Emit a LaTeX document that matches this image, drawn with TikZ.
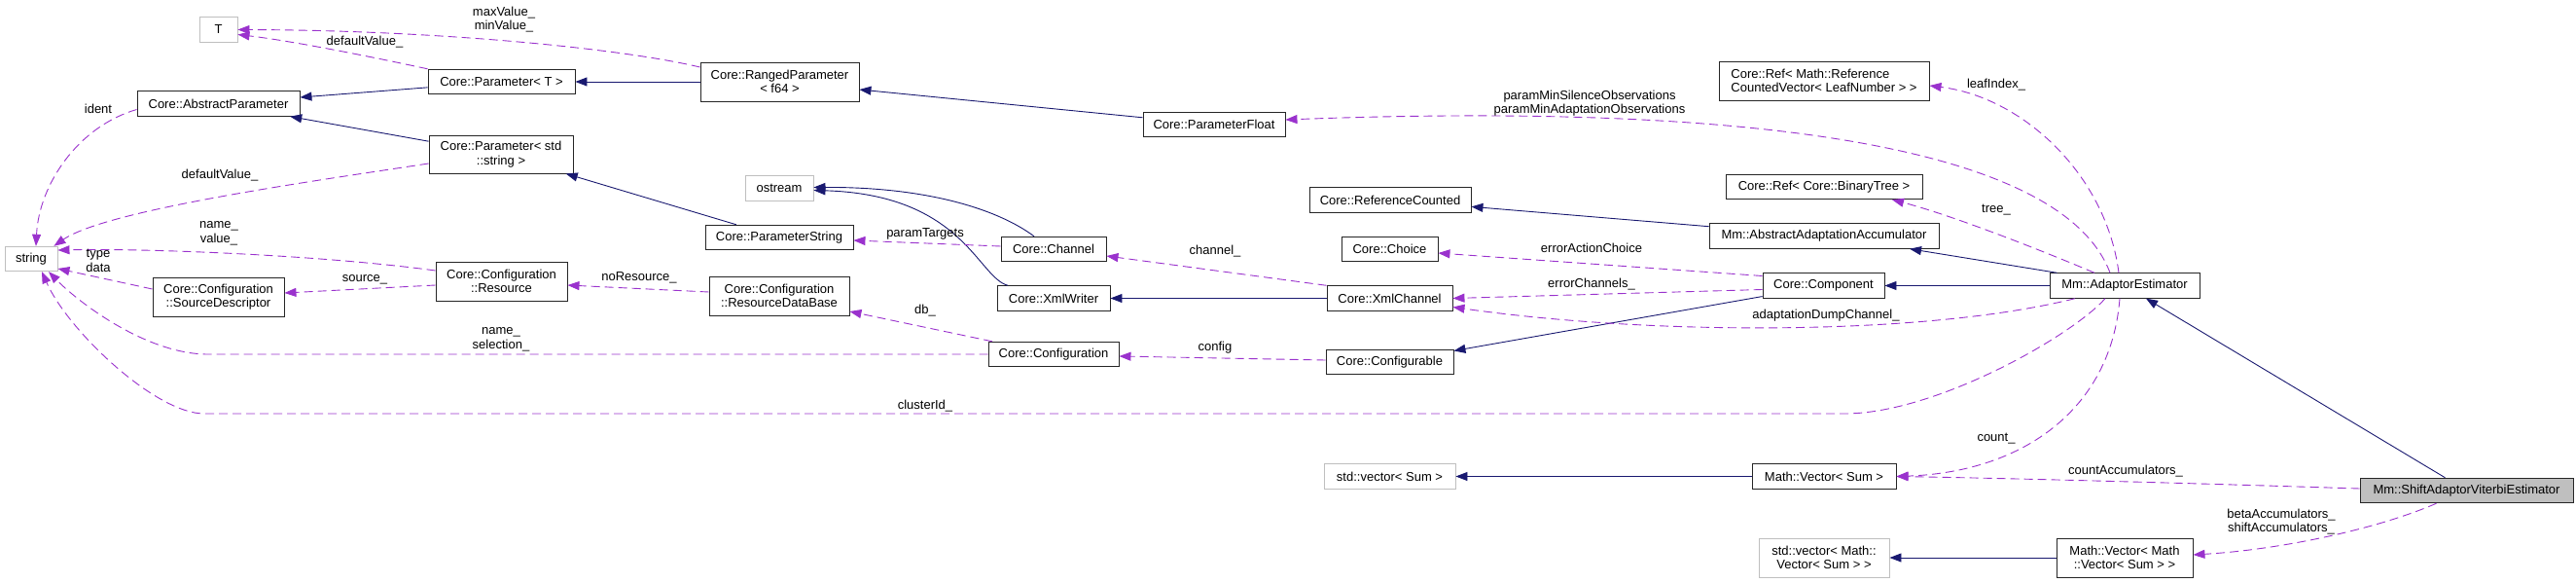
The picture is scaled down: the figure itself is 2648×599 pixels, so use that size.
\documentclass[tikz,border=0pt]{standalone}
\usepackage{fontspec}
\setmainfont{Liberation Sans}
\usetikzlibrary{arrows.meta}
\definecolor{edgeblue}{HTML}{191970}
\definecolor{edgeviolet}{HTML}{9A32CD}
\definecolor{extgray}{HTML}{BFBFBF}
\begin{document}
\begin{tikzpicture}[x=1pt,y=1pt,
  cls/.style={draw=black!85,line width=0.9pt,fill=white,font=\fontsize{13}{14.5}\selectfont,align=center,inner sep=3pt,minimum height=25.5pt},
  ext/.style={cls,draw=extgray},
  inh/.style={draw=edgeblue,line width=0.9pt,-{Triangle[length=12pt,width=9pt]}},
  use/.style={draw=edgeviolet,line width=0.9pt,dash pattern=on 9pt off 5pt,-{Triangle[length=12pt,width=9pt]}},
  lbl/.style={font=\fontsize{13}{14.5}\selectfont,align=center,inner sep=0pt}]
\useasboundingbox (0,0) rectangle (2648,-599);
\node[ext,minimum width=39pt] (tt) at (224.5,-30.5) {T};
\node[cls,minimum width=167pt] (absp) at (224.5,-106.5) {Core::AbstractParameter};
\node[cls,minimum width=151pt] (part) at (515.5,-84) {Core::Parameter< T >};
\node[cls,minimum width=148pt,minimum height=39pt] (pars) at (515,-158.5) {Core::Parameter< std\\::string >};
\node[ext,minimum width=54pt] (str) at (32,-266) {string};
\node[cls,minimum width=135pt,minimum height=40pt] (res) at (515.5,-289) {Core::Configuration\\::Resource};
\node[cls,minimum width=135pt,minimum height=40pt] (srcd) at (224.5,-305) {Core::Configuration\\::SourceDescriptor};
\node[cls,minimum width=163pt,minimum height=40pt] (rng) at (801.5,-84) {Core::RangedParameter\\< f64 >};
\node[cls,minimum width=146pt] (pfl) at (1248,-128) {Core::ParameterFloat};
\node[ext,minimum width=70pt] (ost) at (801,-193.5) {ostream};
\node[cls,minimum width=152pt] (pstr) at (801,-244) {Core::ParameterString};
\node[cls,minimum width=108pt] (chan) at (1083,-256) {Core::Channel};
\node[cls,minimum width=116pt] (xmlw) at (1083,-306.5) {Core::XmlWriter};
\node[cls,minimum width=144pt,minimum height=40pt] (rdb) at (801,-304) {Core::Configuration\\::ResourceDataBase};
\node[cls,minimum width=134pt] (conf) at (1083,-364) {Core::Configuration};
\node[cls,minimum width=216pt,minimum height=40pt,align=left] (refl) at (1875,-83) {Core::Ref< Math::Reference\\CountedVector< LeafNumber > >};
\node[cls,minimum width=202pt] (reft) at (1875,-192) {Core::Ref< Core::BinaryTree >};
\node[cls,minimum width=166pt] (refc) at (1429,-205.5) {Core::ReferenceCounted};
\node[cls,minimum width=236pt] (aaa) at (1875,-242.5) {Mm::AbstractAdaptationAccumulator};
\node[cls,minimum width=99pt] (choi) at (1428.5,-256) {Core::Choice};
\node[cls,minimum width=125pt] (comp) at (1874.5,-293.5) {Core::Component};
\node[cls,minimum width=129pt] (xmlc) at (1428.5,-306.5) {Core::XmlChannel};
\node[cls,minimum width=131pt] (cfgb) at (1428.5,-372) {Core::Configurable};
\node[ext,minimum width=135pt] (svs) at (1428.5,-489.5) {std::vector< Sum >};
\node[cls,minimum width=148pt] (mvs) at (1875,-489.5) {Math::Vector< Sum >};
\node[ext,minimum width=134pt,minimum height=40pt] (svv) at (1875,-573) {std::vector< Math::\\Vector< Sum > >};
\node[cls,minimum width=154pt] (ae) at (2184,-293.5) {Mm::AdaptorEstimator};
\node[cls,fill=extgray,minimum width=219pt] (sav) at (2535.5,-504) {Mm::ShiftAdaptorViterbiEstimator};
\node[cls,minimum width=140pt,minimum height=40pt] (mvv) at (2184,-573) {Math::Vector< Math\\::Vector< Sum > >};
\draw[inh] (part)--(absp);
\draw[inh] (pars)--(absp);
\draw[inh] (rng)--(part);
\draw[inh] (pfl)--(rng);
\draw[inh] (pstr)--(pars);
\draw[inh] ([xshift=-20pt]chan.north) .. controls (1030,-218) and (960,-192) .. ([yshift=1pt]ost.east);
\draw[inh] ([xshift=-47pt]xmlw.north) .. controls (1005,-285) and (990,-200) .. ([yshift=-2pt]ost.east);
\draw[inh] (xmlc)--(xmlw);
\draw[inh] (aaa)--(refc);
\draw[inh] (comp)--(cfgb);
\draw[inh] ([xshift=8pt]ae.north west)--([xshift=88pt]aaa.south);
\draw[inh] (ae)--(comp);
\draw[inh] (mvs)--(svs);
\draw[inh] (mvv)--(svv);
\draw[inh] (sav)--(ae);
\draw[use] ([yshift=15pt]rng.west) .. controls (640,-50) and (450,-31) .. (tt.east);
\draw[use] (part.north west) .. controls (380,-58) and (300,-42) .. ([yshift=-5pt]tt.east);
\draw[use] ([yshift=-6pt]absp.west) .. controls (80,-130) and (40,-190) .. ([xshift=5pt]str.north);
\draw[use] ([yshift=-9.5pt]pars.west) .. controls (330,-185) and (110,-215) .. ([xshift=-4pt]str.north east);
\draw[use] ([yshift=11pt]res.west) .. controls (330,-262) and (150,-255) .. ([yshift=9pt]str.east);
\draw[use] ([yshift=8pt]srcd.west)--([yshift=-10pt]str.east);
\draw[use] ([yshift=-4pt]res.west)--([yshift=4pt]srcd.east);
\draw[use] ([yshift=4pt]rdb.west)--([yshift=-4pt]res.east);
\draw[use] (conf.west)--(214,-364) .. controls (150,-364) and (80,-310) .. ([xshift=18pt]str.south);
\draw[use] ([xshift=-63pt]conf.north)--([yshift=-16pt]rdb.east);
\draw[use] ([yshift=2pt]cfgb.west)--([yshift=-2pt]conf.east);
\draw[use] ([xshift=-20pt]ae.south) .. controls (2130,-345) and (1990,-425) .. (1896,-425)--(210,-425) .. controls (160,-425) and (70,-340) .. ([xshift=11pt]str.south);
\draw[use] ([yshift=3pt]chan.west)--([yshift=-3pt]pstr.east);
\draw[use] (xmlc.north west)--([yshift=-7pt]chan.east);
\draw[use] ([yshift=10pt]comp.west)--([yshift=-4pt]choi.east);
\draw[use] ([yshift=-4pt]comp.west)--(xmlc.east);
\draw[use] ([xshift=-51pt]ae.south) .. controls (1980,-345) and (1700,-345) .. ([yshift=-9pt]xmlc.east);
\draw[use] ([xshift=-15pt]ae.north) .. controls (2120,-150) and (1800,-105) .. ([yshift=5pt]pfl.east);
\draw[use] ([xshift=-31pt]ae.north) .. controls (2110,-262) and (2010,-222) .. ([xshift=70pt]reft.south);
\draw[use] ([xshift=-6pt]ae.north) .. controls (2165,-180) and (2080,-100) .. ([yshift=-5pt]refl.east);
\draw[use] ([xshift=-5pt]ae.south) .. controls (2170,-420) and (2080,-485) .. (mvs.east);
\draw[use] ([yshift=2pt]sav.west) .. controls (2300,-498) and (2100,-492) .. (mvs.east);
\draw[use] ([xshift=-31pt]sav.south) .. controls (2440,-545) and (2340,-565) .. ([yshift=3pt]mvv.east);
\node[lbl] (lmm) at (518,-20) {maxValue\_\\minValue\_};
\node[lbl] (ldv) at (375,-43) {defaultValue\_};
\node[lbl] (lid) at (101,-112) {ident};
\node[lbl] (lds) at (226,-180) {defaultValue\_};
\node[lbl] (lnv) at (225,-240) {name\_\\value\_};
\node[lbl] (ltd) at (101,-268) {type\\data};
\node[lbl] (lsrc) at (375,-287) {source\_};
\node[lbl] (lnr) at (657,-285) {noResource\_};
\node[lbl] (lns) at (515,-349) {name\_\\selection\_};
\node[lbl] (ldb) at (951,-319) {db\_};
\node[lbl] (lcfg) at (1249,-357) {config};
\node[lbl] (lcl) at (951,-417) {clusterId\_};
\node[lbl] (lpt) at (951,-240) {paramTargets};
\node[lbl] (lch) at (1249,-258) {channel\_};
\node[lbl] (leac) at (1636,-255) {errorActionChoice};
\node[lbl] (lec) at (1636,-292) {errorChannels\_};
\node[lbl] (ladc) at (1877,-324) {adaptationDumpChannel\_};
\node[lbl] (lpm) at (1634,-106) {paramMinSilenceObservations\\paramMinAdaptationObservations};
\node[lbl] (ltr) at (2052,-216) {tree\_};
\node[lbl] (lli) at (2052,-87) {leafIndex\_};
\node[lbl] (lcnt) at (2052,-451) {count\_};
\node[lbl] (lca) at (2185,-484) {countAccumulators\_};
\node[lbl] (lbs) at (2345,-536) {betaAccumulators\_\\shiftAccumulators\_};
\end{tikzpicture}
\end{document}
